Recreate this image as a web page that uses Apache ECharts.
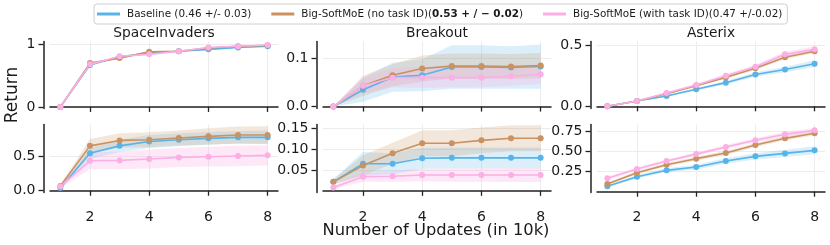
<!DOCTYPE html>
<html><head><meta charset="utf-8">
<script src="https://cdn.jsdelivr.net/npm/echarts@6/dist/echarts.min.js"></script>
<style>html,body{margin:0;padding:0;background:#fff}#c{width:830px;height:245px}</style>
</head><body><div id="c"></div>
<script>
// ---------- data ----------
const updates = [1, 2, 3, 4, 5, 6, 7, 8];
const xTickValues = [2, 4, 6, 8];
const gameTitles = ['SpaceInvaders', 'Breakout', 'Asterix'];
const seriesNames = ['Baseline (0.46 +/- 0.03)', 'Big-SoftMoE (no task ID)', 'Big-SoftMoE (with task ID)(0.47 +/-0.02)'];

// SpaceInvaders, top row
const siTopBase = [0, 0.67, 0.80, 0.86, 0.89, 0.92, 0.95, 0.97];
const siTopNoId = [0, 0.70, 0.78, 0.88, 0.89, 0.94, 0.97, 0.98];
const siTopWithId = [0, 0.68, 0.81, 0.84, 0.89, 0.95, 0.97, 0.99];
const siTopBaseErr = [0, 0.01, 0.01, 0.01, 0.01, 0.01, 0.01, 0.01];
const siTopNoIdErr = [0, 0.01, 0.01, 0.01, 0.01, 0.01, 0.01, 0.01];
const siTopWithIdErr = [0, 0.01, 0.01, 0.01, 0.01, 0.01, 0.01, 0.01];
// SpaceInvaders, bottom row
const siBotBase = [0.04, 0.55, 0.66, 0.725, 0.75, 0.77, 0.785, 0.785];
const siBotNoId = [0.07, 0.66, 0.74, 0.75, 0.775, 0.80, 0.82, 0.82];
const siBotWithId = [0.064, 0.44, 0.446, 0.466, 0.49, 0.50, 0.51, 0.52];
const siBotBaseErr = [0.02, 0.08, 0.09, 0.095, 0.095, 0.095, 0.095, 0.10];
const siBotNoIdErr = [0.02, 0.10, 0.105, 0.11, 0.11, 0.12, 0.125, 0.13];
const siBotWithIdErr = [0.025, 0.12, 0.13, 0.14, 0.14, 0.145, 0.15, 0.145];
// Breakout, top row
const boTopBase = [0, 0.035, 0.061, 0.065, 0.082, 0.082, 0.081, 0.083];
const boTopNoId = [0, 0.043, 0.065, 0.079, 0.084, 0.084, 0.083, 0.085];
const boTopWithId = [0, 0.043, 0.060, 0.060, 0.060, 0.060, 0.063, 0.067];
const boTopBaseErr = [0, 0.025, 0.03, 0.033, 0.045, 0.045, 0.044, 0.046];
const boTopNoIdErr = [0, 0.021, 0.023, 0.027, 0.026, 0.026, 0.026, 0.026];
const boTopWithIdErr = [0, 0.015, 0.02, 0.021, 0.02, 0.02, 0.02, 0.02];
// Breakout, bottom row
const boBotBase = [0.0215, 0.065, 0.065, 0.078, 0.079, 0.079, 0.079, 0.079];
const boBotNoId = [0.0215, 0.0605, 0.09, 0.114, 0.114, 0.121, 0.126, 0.126];
const boBotWithId = [0.008, 0.034, 0.035, 0.038, 0.038, 0.038, 0.038, 0.038];
const boBotBaseErr = [0.006, 0.028, 0.025, 0.025, 0.025, 0.025, 0.025, 0.025];
const boBotNoIdErr = [0.006, 0.024, 0.025, 0.031, 0.031, 0.031, 0.031, 0.031];
const boBotWithIdErr = [0.004, 0.012, 0.013, 0.015, 0.016, 0.016, 0.017, 0.017];
// Asterix, top row
const asTopBase = [0, 0.043, 0.084, 0.139, 0.193, 0.26, 0.30, 0.348];
const asTopNoId = [0, 0.043, 0.103, 0.168, 0.236, 0.31, 0.40, 0.45];
const asTopWithId = [0, 0.043, 0.109, 0.174, 0.25, 0.323, 0.424, 0.465];
const asTopBaseErr = [0, 0.003, 0.006, 0.01, 0.013, 0.018, 0.022, 0.027];
const asTopNoIdErr = [0, 0.003, 0.006, 0.008, 0.01, 0.012, 0.015, 0.015];
const asTopWithIdErr = [0, 0.003, 0.008, 0.01, 0.014, 0.016, 0.022, 0.025];
// Asterix, bottom row
const asBotBase = [0.067, 0.188, 0.267, 0.308, 0.383, 0.442, 0.479, 0.517];
const asBotNoId = [0.096, 0.238, 0.338, 0.413, 0.483, 0.583, 0.667, 0.73];
const asBotWithId = [0.167, 0.283, 0.383, 0.47, 0.558, 0.642, 0.717, 0.767];
const asBotBaseErr = [0.01, 0.02, 0.025, 0.03, 0.035, 0.04, 0.045, 0.05];
const asBotNoIdErr = [0.015, 0.02, 0.02, 0.025, 0.025, 0.025, 0.025, 0.025];
const asBotWithIdErr = [0.02, 0.02, 0.02, 0.02, 0.025, 0.025, 0.03, 0.03];

// tick values / labels per panel
const siTopTicks = [0, 1], siTopLabels = ['0', '1'];
const siBotTicks = [0, 0.5], siBotLabels = ['0.0', '0.5'];
const boTopTicks = [0, 0.1], boTopLabels = ['0.0', '0.1'];
const boBotTicks = [0.05, 0.10, 0.15], boBotLabels = ['0.05', '0.10', '0.15'];
const asTopTicks = [0, 0.5], asTopLabels = ['0.0', '0.5'];
const asBotTicks = [0.25, 0.50, 0.75], asBotLabels = ['0.25', '0.50', '0.75'];

// ---------- layout / style ----------
const FONT = 'DejaVu Sans';
const TXT = '#1a1a1a';
const colors = ['#56B4E9', '#CA9161', '#FBAFE4'];
const bandColors = ['rgba(86,180,233,0.22)', 'rgba(202,145,97,0.22)', 'rgba(251,175,228,0.30)'];
const colLeft = [50, 323, 597], colWidth = 228;
const rowTop = [41.5, 124.5], rowHeight = [67, 68];

const panels = [
  {col: 0, row: 0, y: [-0.025, 1.045], ticks: siTopTicks, labels: siTopLabels, m: [siTopBase, siTopNoId, siTopWithId], e: [siTopBaseErr, siTopNoIdErr, siTopWithIdErr]},
  {col: 0, row: 1, y: [-0.026, 0.974], ticks: siBotTicks, labels: siBotLabels, m: [siBotBase, siBotNoId, siBotWithId], e: [siBotBaseErr, siBotNoIdErr, siBotWithIdErr]},
  {col: 1, row: 0, y: [-0.004, 0.135], ticks: boTopTicks, labels: boTopLabels, m: [boTopBase, boTopNoId, boTopWithId], e: [boTopBaseErr, boTopNoIdErr, boTopWithIdErr]},
  {col: 1, row: 1, y: [-0.004, 0.159], ticks: boBotTicks, labels: boBotLabels, m: [boBotBase, boBotNoId, boBotWithId], e: [boBotBaseErr, boBotNoIdErr, boBotWithIdErr]},
  {col: 2, row: 0, y: [-0.018, 0.529], ticks: asTopTicks, labels: asTopLabels, m: [asTopBase, asTopNoId, asTopWithId], e: [asTopBaseErr, asTopNoIdErr, asTopWithIdErr]},
  {col: 2, row: 1, y: [-0.01, 0.84], ticks: asBotTicks, labels: asBotLabels, m: [asBotBase, asBotNoId, asBotWithId], e: [asBotBaseErr, asBotNoIdErr, asBotWithIdErr]}
];

const grids = [], xAxes = [], yAxes = [], series = [];
const axisLine = {show: true, lineStyle: {color: '#222', width: 1.5}};
const axisTick = (vals) => ({show: true, length: 5, inside: false, lineStyle: {color: '#222', width: 1.3}, customValues: vals});
const split = (vals) => ({show: true, lineStyle: {color: '#ececec', width: 1}, customValues: vals});

panels.forEach((p, i) => {
  grids.push({left: colLeft[p.col], top: rowTop[p.row], width: colWidth, height: rowHeight[p.row], containLabel: false});
  xAxes.push({
    type: 'value', gridIndex: i, min: 0.65, max: 8.35, offset: 7.5,
    axisLine, axisTick: axisTick(xTickValues), splitLine: split(xTickValues),
    axisLabel: {show: p.row === 1, customValues: xTickValues, margin: 10, fontFamily: FONT, fontSize: 14, color: TXT}
  });
  yAxes.push({
    type: 'value', gridIndex: i, min: p.y[0], max: p.y[1], offset: 6.5,
    axisLine, axisTick: axisTick(p.ticks), splitLine: split(p.ticks),
    axisLabel: {show: true, customValues: p.ticks, margin: 8, fontFamily: FONT, fontSize: 14, color: TXT,
      formatter: (v) => { const k = p.ticks.findIndex(t => Math.abs(t - v) < 1e-9); return k >= 0 ? p.labels[k] : ''; }}
  });
  // bands
  for (let s = 0; s < 3; s++) {
    const mean = p.m[s], err = p.e[s], fill = bandColors[s];
    series.push({
      type: 'custom', xAxisIndex: i, yAxisIndex: i, z: 1, silent: true,
      data: updates.map((x, k) => [x, mean[k]]),
      renderItem: (params, api) => {
        if (params.dataIndex !== 0) return null;
        const pts = [];
        for (let k = 0; k < updates.length; k++) pts.push(api.coord([updates[k], mean[k] + err[k]]));
        for (let k = updates.length - 1; k >= 0; k--) pts.push(api.coord([updates[k], mean[k] - err[k]]));
        return {type: 'polygon', shape: {points: pts}, style: {fill: fill}};
      }
    });
  }
  // lines
  for (let s = 0; s < 3; s++) {
    series.push({
      type: 'line', name: seriesNames[s], xAxisIndex: i, yAxisIndex: i, z: 3,
      data: updates.map((x, k) => [x, p.m[s][k]]),
      symbol: 'circle', symbolSize: 6, showSymbol: true,
      lineStyle: {color: colors[s], width: 1.6}, itemStyle: {color: colors[s]},
      animation: false
    });
  }
});

const graphics = [];
gameTitles.forEach((t, c) => {
  graphics.push({type: 'text', x: colLeft[c] + colWidth / 2, y: 33, silent: true,
    style: {text: t, fontFamily: FONT, fontSize: 13.8, fill: TXT, align: 'center', verticalAlign: 'middle', textAlign: 'center', textVerticalAlign: 'middle'}});
});
graphics.push({type: 'text', x: 436, y: 231, silent: true,
  style: {text: 'Number of Updates (in 10k)', fontFamily: FONT, fontSize: 16.3, fill: TXT, align: 'center', verticalAlign: 'middle', textAlign: 'center', textVerticalAlign: 'middle'}});
graphics.push({type: 'text', x: 12.5, y: 95, rotation: Math.PI / 2, silent: true,
  style: {text: 'Return', fontFamily: FONT, fontSize: 17, fill: TXT, align: 'center', verticalAlign: 'middle', textAlign: 'center', textVerticalAlign: 'middle'}});

const chart = echarts.init(document.getElementById('c'), null, {renderer: 'canvas'});
chart.setOption({
  animation: false,
  backgroundColor: '#fff',
  grid: grids, xAxis: xAxes, yAxis: yAxes, series: series,
  legend: {
    data: seriesNames, left: 94, top: 4, orient: 'horizontal',
    icon: 'rect', itemWidth: 23, itemHeight: 3, itemGap: 20,
    padding: [4, 5, 4, 3], borderColor: '#d0d0d0', borderWidth: 1, borderRadius: 3, backgroundColor: '#fff',
    textStyle: {fontFamily: FONT, fontSize: 10.4, color: TXT, lineHeight: 12, padding: [0, 0, 0, 2],
      rich: {b: {fontFamily: FONT, fontSize: 10.4, fontWeight: 'bold', color: TXT, lineHeight: 12}}},
    formatter: (name) => name === seriesNames[1] ? name + '({b|0.53 + / \u2212 0.02})' : name
  },
  graphic: graphics
});
</script>
</body></html>
